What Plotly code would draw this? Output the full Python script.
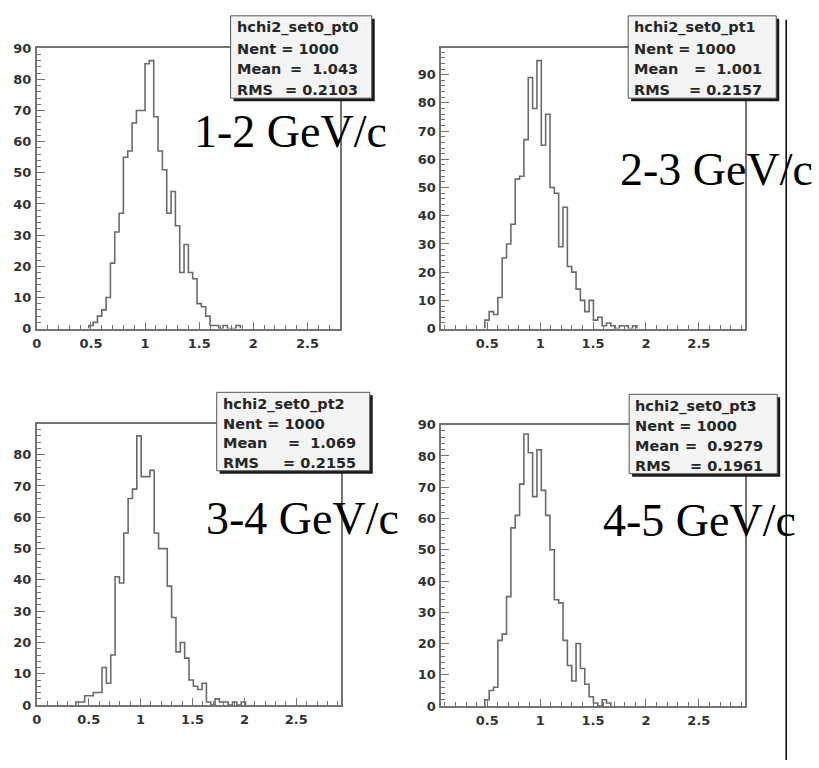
import plotly.graph_objects as go

# ---------------- data ----------------
# chi2 distributions for four pT slices, 1000 entries each
p0_start, p0_width = 0.48, 0.04
p0_counts = [1, 2, 4, 6, 10, 21, 31, 37, 55, 57, 66, 70, 70, 85, 86, 68, 57, 51,
             37, 44, 33, 18, 27, 18, 16, 8, 7, 4, 1, 1, 0, 1, 0, 0, 1]

p1_start, p1_width = 0.477, 0.04106
p1_counts = [3, 6, 5, 11, 25, 30, 37, 53, 54, 67, 89, 78, 95, 65, 76, 50, 48, 29,
             43, 22, 20, 14, 10, 6, 10, 3, 4, 1, 2, 1, 0, 1, 1, 0, 1]

p2_start, p2_width = 0.377, 0.0419
p2_counts = [1, 1, 3, 3, 4, 4, 12, 7, 16, 41, 39, 55, 66, 69, 86, 73, 73, 75, 55,
             50, 50, 38, 28, 17, 20, 15, 8, 6, 5, 7, 1, 0, 2, 1, 1, 0, 1, 0, 1]

p3_start, p3_width = 0.477, 0.04106
p3_counts = [2, 5, 6, 21, 23, 35, 57, 61, 71, 87, 81, 67, 82, 69, 61, 50, 34, 33,
             21, 13, 8, 20, 12, 7, 3, 1, 0, 2, 1]

hist_names = ["hchi2_set0_pt0", "hchi2_set0_pt1", "hchi2_set0_pt2", "hchi2_set0_pt3"]
nent = [1000, 1000, 1000, 1000]
means = ["1.043", "1.001", "1.069", "0.9279"]
rms = ["0.2103", "0.2157", "0.2155", "0.1961"]
pt_labels = ["1-2 GeV/c", "2-3 GeV/c", "3-4 GeV/c", "4-5 GeV/c"]

x_ranges = [[0, 2.8], [0.066, 2.94], [0, 2.93], [0.066, 2.94]]
y_ranges = [[0, 90], [0, 99.4], [0, 89.9], [0, 90]]

# ---------------- layout (pixels) ----------------
W, H = 819, 768
# frame boxes: left, top, right, bottom
frames = [(32, 42, 337, 328), (439, 42, 745, 328),
          (32, 425, 338, 712), (439, 426, 745, 713)]
# stat boxes: left, top, right, bottom
stat_boxes = [(227, 9, 369, 93), (627, 9, 776, 93),
              (213, 393, 367, 473), (628, 395, 777, 476)]
label_pos = [(188, 127), (617, 166), (200, 522), (600, 524)]

FRAME = "#747474"
LINE = "#6a6a6a"
TICKFONT = dict(family="DejaVu Sans", size=13, color="#333333", weight="bold")
STATFONT = dict(family="DejaVu Sans", size=14.5, color="#262626", weight="bold")


def px(x):
    return x / W


def py(y):
    return 1 - y / H


def outline(start, width, counts):
    edges = [start + i * width for i in range(len(counts) + 1)]
    xs = [edges[0]] + edges
    ys = [0] + list(counts) + [0]
    return xs, ys


fig = go.Figure()
series = [(p0_start, p0_width, p0_counts), (p1_start, p1_width, p1_counts),
          (p2_start, p2_width, p2_counts), (p3_start, p3_width, p3_counts)]

layout = dict(width=W, height=H, margin=dict(l=0, r=0, t=0, b=0),
              paper_bgcolor="white", plot_bgcolor="white", showlegend=False)
shapes = []
annotations = []

for i, (start, width, counts) in enumerate(series):
    n = "" if i == 0 else str(i + 1)
    xs, ys = outline(start, width, counts)
    fig.add_trace(go.Scatter(x=xs, y=ys, mode="lines", line_shape="hv",
                             line=dict(color=LINE, width=1.6),
                             xaxis="x" + n, yaxis="y" + n, hoverinfo="skip"))
    l, t, r, b = frames[i]
    layout["xaxis" + n] = dict(
        domain=[px(l), px(r)], range=x_ranges[i], anchor="y" + n,
        showline=True, linecolor=FRAME, linewidth=1.6, mirror=True,
        ticks="inside", ticklen=7, tickwidth=1.3, tickcolor=FRAME,
        tick0=0, dtick=0.5, showgrid=False, zeroline=False,
        minor=dict(ticks="inside", ticklen=4, tickwidth=1.1, tickcolor=FRAME,
                   tick0=0, dtick=0.1, showgrid=False),
        tickfont=TICKFONT, ticklabelstandoff=2)
    layout["yaxis" + n] = dict(
        domain=[py(b), py(t)], range=y_ranges[i], anchor="x" + n,
        showline=True, linecolor=FRAME, linewidth=1.6, mirror=True,
        ticks="inside", ticklen=8, tickwidth=1.3, tickcolor=FRAME,
        tick0=0, dtick=10, showgrid=False, zeroline=False,
        minor=dict(ticks="inside", ticklen=4, tickwidth=1.1, tickcolor=FRAME,
                   tick0=0, dtick=2, showgrid=False),
        tickfont=TICKFONT, ticklabelstandoff=1)

    # statistics box with drop shadow
    sl, st, sr, sb = stat_boxes[i]
    shapes.append(dict(type="rect", xref="paper", yref="paper",
                       x0=px(sl + 3), x1=px(sr + 3), y0=py(sb + 3), y1=py(st + 3),
                       fillcolor="#1a1a1a", line=dict(width=0), layer="above"))
    shapes.append(dict(type="rect", xref="paper", yref="paper",
                       x0=px(sl), x1=px(sr), y0=py(sb), y1=py(st),
                       fillcolor="#f4f4f4", line=dict(color="#555555", width=1),
                       layer="above"))
    step = (sb - st - 20) / 3
    rows = [hist_names[i], "Nent = %d" % nent[i], "Mean", "RMS"]
    for k, txt in enumerate(rows):
        annotations.append(dict(xref="paper", yref="paper", x=px(sl + 4),
                                y=py(st + 12 + k * step), text=txt,
                                xanchor="left", yanchor="middle",
                                showarrow=False, font=STATFONT))
    for k, val in ((2, "=  " + means[i]), (3, "= " + rms[i])):
        annotations.append(dict(xref="paper", yref="paper", x=px(sr - 12),
                                y=py(st + 12 + k * step), text=val,
                                xanchor="right", yanchor="middle",
                                showarrow=False, font=STATFONT))

    # transverse momentum range label
    lx, ly = label_pos[i]
    annotations.append(dict(xref="paper", yref="paper", x=px(lx), y=py(ly),
                            text=pt_labels[i], xanchor="left", yanchor="middle",
                            showarrow=False,
                            font=dict(family="Liberation Serif", size=46,
                                      color="black")))

# page border line on the right
shapes.append(dict(type="line", xref="paper", yref="paper",
                   x0=px(786), x1=px(786), y0=py(13), y1=0,
                   line=dict(color="black", width=1.5), layer="above"))

layout["shapes"] = shapes
layout["annotations"] = annotations
fig.update_layout(**layout)
fig.write_html("out.html")
